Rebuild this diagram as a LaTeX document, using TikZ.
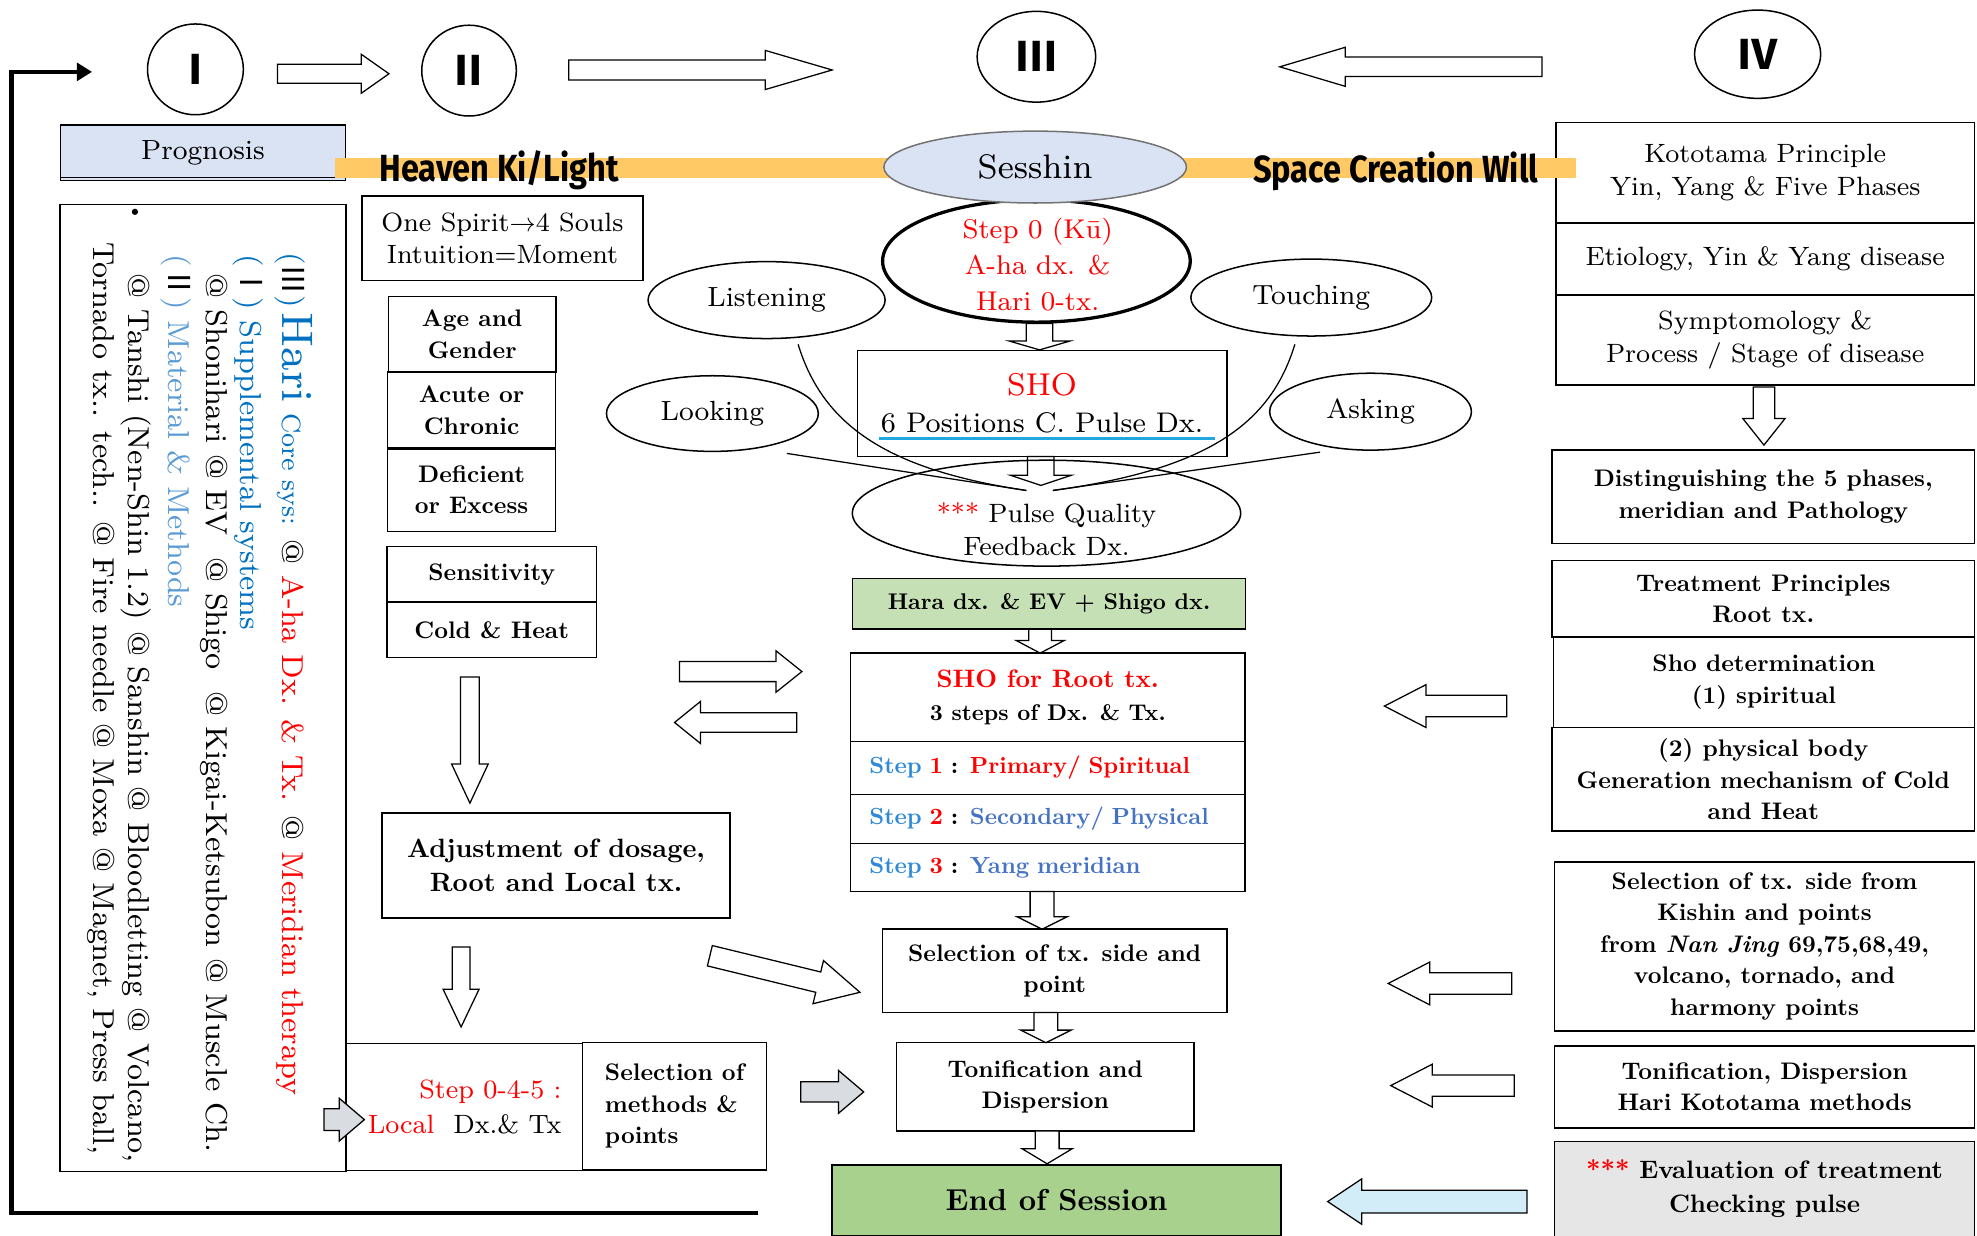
\documentclass[tikz,border=0pt]{standalone}
\usepackage{fontspec}
\setmainfont{lmroman8-regular.otf}[BoldFont=lmroman10-bold.otf, ItalicFont=lmroman8-italic.otf, BoldItalicFont=lmroman10-bolditalic.otf]
\usetikzlibrary{shapes.geometric,calc,positioning,arrows.meta}
\newfontfamily\bannerfont{Fira Sans}[FakeStretch=0.86]
\newfontfamily\numfont{Noto Sans CJK JP}
\definecolor{progblue}{HTML}{DAE3F3}
\definecolor{bandorange}{HTML}{FFC966}
\definecolor{haragreen}{HTML}{C5E0B4}
\definecolor{endgreen}{HTML}{A9D18E}
\definecolor{evalgray}{HTML}{E7E6E6}
\definecolor{arrowgray}{HTML}{D9DCE0}
\definecolor{arrowblue}{HTML}{D3EDF8}
\definecolor{stepblue}{HTML}{2E8AD8}
\definecolor{yangblue}{HTML}{4472C4}
\definecolor{hariblue}{HTML}{0070C0}
\definecolor{matblue}{HTML}{5B9BD5}
\definecolor{ulblue}{HTML}{22A8E0}
\newcommand{\fsz}[2]{\fontsize{#1}{#2}\selectfont}
\newcommand{\fatarrow}[6][fill=white]{
    \coordinate (fat) at #2;
    \coordinate (fab) at #3;
    \coordinate (fah) at ($(fab)!#6!(fat)$);
    \draw[line width=1pt, #1] ($(fat)!#4!90:(fab)$) -- ($(fah)!#4!90:(fab)$) -- ($(fah)!#5!90:(fab)$) -- (fab)
        -- ($(fah)!#5!-90:(fab)$) -- ($(fah)!#4!-90:(fab)$) -- ($(fat)!#4!-90:(fab)$) -- cycle;
}
\tikzset{
    box/.style={draw, line width=1.2pt, inner sep=0pt, align=center, font=\fsz{21}{26}},
    bbox/.style={box, font=\bfseries\fsz{19}{25}},
    stepbox/.style={box, minimum width=313pt, text width=283pt, inner xsep=15pt, align=left, font=\bfseries\fsz{18.5}{22}},
    oval/.style={draw, ellipse, line width=1.2pt, inner sep=0pt, align=center, font=\fsz{22}{27}},
    numoval/.style={oval, font=\numfont\bfseries\fsz{32}{32}},
    rtext/.style={rotate=-90, anchor=base west, inner sep=0pt, font=\fsz{24}{30}},
    feeler/.style={line width=1pt},
    loopline/.style={line width=3.5pt, -{Triangle[length=12pt,width=14pt]}},
    banner/.style={font=\bannerfont\bfseries\fsz{30}{30}, inner sep=0pt, anchor=base},
}
\begin{document}
\begin{tikzpicture}[x=1pt,y=-1pt]
\useasboundingbox (0,0) rectangle (1568,980);

\node[numoval, minimum width=76pt, minimum height=72pt] (c1) at (155,55) {Ⅰ};
\node[numoval, minimum width=75pt, minimum height=72pt] (c2) at (372,56) {Ⅱ};
\node[numoval, minimum width=94pt, minimum height=72pt] (c3) at (822,45) {Ⅲ};
\node[numoval, minimum width=100pt, minimum height=70pt] (c4) at (1394,43) {Ⅳ};
\fatarrow{(220,58.5)}{(308.5,58.5)}{7.5pt}{15.5pt}{22pt}
\fatarrow{(451,55.5)}{(660,55.5)}{8pt}{15.5pt}{53pt}
\fatarrow{(1223,53)}{(1015,53)}{7.7pt}{15.5pt}{52pt}

\coordinate (loopstart) at (601,962);
\coordinate (loopcorner) at (9,57);
\coordinate (looptip) at (73,57);
\draw[loopline] (loopstart) -| (loopcorner) -- (looptip);

\node[box, fill=progblue, minimum width=226pt, minimum height=44pt, font=\fsz{22}{26}] (prog) at (161,121) {Prognosis};
\draw[line width=1pt] ([yshift=3pt]prog.south west) -- ([yshift=3pt]prog.south east);

% right column
\node[box, minimum width=332pt, minimum height=80pt] (koto) at (1400,137) {Kototama Principle\\Yin, Yang \& Five Phases};
\node[box, minimum width=332pt, minimum height=57pt] (etio) at (1400,205.5) {Etiology, Yin \& Yang disease};
\node[box, minimum width=332pt, minimum height=72pt] (sympt) at (1400,269.5) {Symptomology \&\\Process / Stage of disease};
\fatarrow{(1399,307)}{(1399,353)}{8.5pt}{16.7pt}{21pt}
\node[bbox, minimum width=335pt, minimum height=74pt] (disting) at (1398.5,394) {Distinguishing the 5 phases,\\meridian and Pathology};
\node[bbox, minimum width=335pt, minimum height=61pt] (treat) at (1398.5,475) {Treatment Principles\\Root tx.};
\node[bbox, minimum width=334pt, minimum height=72pt] (shodet) at (1399,541) {Sho determination\\(1) spiritual};
\node[bbox, minimum width=335pt, minimum height=82pt] (phys) at (1398.5,618) {(2) physical body\\Generation mechanism of Cold\\and Heat};
\node[bbox, minimum width=333pt, minimum height=134pt] (selkish) at (1399.5,750.5) {Selection of tx. side from\\Kishin and points\\from \textit{Nan Jing} 69,75,68,49,\\volcano, tornado, and\\harmony points};
\node[bbox, minimum width=333pt, minimum height=65pt] (tondisp) at (1399.5,862) {Tonification, Dispersion\\Hari Kototama methods};
\node[bbox, fill=evalgray, minimum width=333pt, minimum height=75pt, font=\bfseries\fsz{20}{27}] (evalu) at (1399.5,943) {{\color{red}***} Evaluation of treatment\\Checking pulse};
\fatarrow{(1195,560)}{(1098,560)}{8.5pt}{17pt}{33pt}
\fatarrow{(1199,780)}{(1101,780)}{8.5pt}{17pt}{33pt}
\fatarrow{(1201,861)}{(1103,861)}{8.5pt}{17pt}{33pt}
\fatarrow[fill=arrowblue]{(1211,953)}{(1053,953)}{9pt}{18pt}{27pt}

% band
\fill[bandorange] (266,125) rectangle (1250,141);
\node[banner] (heaven) at (396,144) {Heaven Ki/Light};
\node[banner] (space) at (1107,145) {Space Creation Will};

% centre column
\node[oval, line width=2.6pt, minimum width=244pt, minimum height=97pt] (step0) at (822,207) {};
\node[text=red, align=center, font=\fsz{21.5}{28.5}] (step0t) at (823,210) {Step 0 (Kū)\\A-ha dx. \&\\Hari 0-tx.};
\node[oval, fill=progblue, draw=black!55, minimum width=240pt, minimum height=57pt, font=\fsz{27}{30}] (sesshin) at (821,132.5) {Sesshin};
\node[oval, minimum width=188pt, minimum height=61pt] (listen) at (608,238) {Listening};
\node[oval, minimum width=191pt, minimum height=61pt] (touch) at (1040,236) {Touching};
\node[oval, minimum width=168pt, minimum height=60pt] (look) at (565,328) {Looking};
\node[oval, minimum width=160pt, minimum height=61pt] (ask) at (1087,326.5) {Asking};
\node[box, minimum width=293pt, minimum height=84pt, font=\fsz{22.5}{29}] (sho6) at (826.5,320) {{\color{red}\fsz{25}{29}SHO}\\6 Positions C. Pulse Dx.};
\draw[ulblue, line width=2.5pt] ($(sho6.south west)+(18,-15)$) -- ($(sho6.south east)+(-10,-15)$);
\fatarrow{(824.5,256.5)}{(824.5,277.5)}{10.5pt}{24pt}{7pt}
\fatarrow{(825.5,362)}{(825.5,385)}{10.5pt}{24pt}{8pt}
\node[oval, minimum width=308pt, minimum height=84pt] (pulse) at (830,407) {};
\node[align=center, font=\fsz{21}{26}] (pulset) at (830,420) {{\color{red}***} Pulse Quality\\Feedback Dx.};
\coordinate (pqL) at (814,389);
\coordinate (pqR) at (835,389);
\draw[feeler] ($(listen.south)+(25,4)$) .. controls (652,335) and (700,372) .. (pqL);
\draw[feeler] ($(look.south)+(59,1)$) -- (pqL);
\draw[feeler] ($(touch.south)+(-13,6)$) .. controls (1008,335) and (960,372) .. (pqR);
\draw[feeler] ($(ask.south)+(-40,1)$) -- (pqR);

\node[bbox, fill=haragreen, minimum width=312pt, minimum height=40pt, font=\bfseries\fsz{18}{22}] (hara) at (832,479) {Hara dx. \& EV + Shigo dx.};
\fatarrow{(825,499)}{(825,518)}{9pt}{19pt}{10pt}
\node[box, minimum width=313pt, minimum height=70pt] (root) at (831,553) {{\color{red}\bfseries\fsz{20}{26}SHO for Root tx.}\\{\bfseries\fsz{18}{24}3 steps of Dx. \& Tx.}};
\node[stepbox, minimum height=42pt] (s1) at (831,609) {{\color{stepblue}Step} {\color{red}1} : {\color{red}Primary/ Spiritual}};
\node[stepbox, minimum height=39pt] (s2) at (831,649.5) {{\color{stepblue}Step} {\color{red}2} : {\color{yangblue}Secondary/ Physical}};
\node[stepbox, minimum height=38pt] (s3) at (831,688) {{\color{stepblue}Step} {\color{red}3} : {\color{yangblue}Yang meridian}};
\fatarrow{(826.5,707)}{(826.5,737)}{9.5pt}{20pt}{10pt}
\node[bbox, minimum width=273pt, minimum height=66pt] (sel) at (836.5,770) {Selection of tx. side and\\point};
\fatarrow{(829.5,803)}{(829.5,827)}{9.5pt}{20pt}{10pt}
\node[bbox, minimum width=236pt, minimum height=70pt] (tonif) at (829,862) {Tonification and\\Dispersion};
\fatarrow{(830.5,897)}{(830.5,923)}{9.5pt}{20pt}{12pt}
\node[bbox, fill=endgreen, minimum width=356pt, minimum height=56pt, font=\bfseries\fsz{24}{28}] (endsess) at (838,952) {End of Session};

% left column
\node[box, minimum width=223pt, minimum height=67pt] (spirit) at (398.5,189) {One Spirit$\rightarrow$4 Souls\\Intuition=Moment};
\node[bbox, minimum width=133pt, minimum height=60pt] (age) at (374.5,265) {Age and\\Gender};
\node[bbox, minimum width=133pt, minimum height=61pt] (acute) at (374,325.5) {Acute or\\Chronic};
\node[bbox, minimum width=133pt, minimum height=66pt] (defic) at (374,388.5) {Deficient\\or Excess};
\node[bbox, minimum width=166pt, minimum height=44pt] (sens) at (390,455.5) {Sensitivity};
\node[bbox, minimum width=166pt, minimum height=44pt] (cold) at (390,499.5) {Cold \& Heat};
\fatarrow{(372.7,537)}{(372.7,637)}{7.4pt}{14.5pt}{31pt}
\node[bbox, minimum width=276pt, minimum height=83pt, font=\bfseries\fsz{21}{27}] (adjust) at (441,686.5) {Adjustment of dosage,\\Root and Local tx.};
\fatarrow{(365.7,751)}{(365.7,814.5)}{7.1pt}{14.3pt}{30pt}
\fatarrow{(539,532.6)}{(636,532.6)}{8pt}{16.4pt}{20.5pt}
\fatarrow{(632,573)}{(535,573)}{7.7pt}{16.7pt}{20.6pt}
\fatarrow{(563,758)}{(682,787)}{8.3pt}{17.6pt}{34pt}

\node[box, minimum width=227pt, minimum height=767pt] (leftbox) at (161,545.5) {};
\fill (107,168) circle (2.5pt);
\node[rtext] (rt1) at (224,200) {{\color{hariblue}(}{\numfont Ⅲ}{\color{hariblue})\,{\fsz{35}{35}Hari} {\fsz{21}{22}Core sys:}} @ {\color{red}A-ha Dx. \& Tx.} @ {\color{red}Meridian therapy}};
\node[rtext] (rt2) at (191,202) {{\color{hariblue}(}{\numfont Ⅰ}{\color{hariblue}) Supplemental systems}};
\node[rtext] (rt3) at (164,217) {@ Shonihari @ EV \ @ Shigo \ @ Kigai-Ketsubon @ Muscle Ch.};
\node[rtext] (rt4) at (134,202) {{\color{matblue}(}{\numfont Ⅱ}{\color{matblue}) Material \& Methods}};
\node[rtext] (rt5) at (102,217) {@ Tanshi (Nen-Shin 1.2) @ Sanshin @ Bloodletting @ Volcano,};
\node[rtext] (rt6) at (74,192) {Tornado tx.. tech.. @ Fire needle @ Moxa @ Magnet, Press ball,};

\node[box, minimum width=187pt, minimum height=101pt, align=right, font=\fsz{21}{28}] (local) at (368.5,878) {{\color{red}Step 0-4-5 :}\\{\color{red}Local}\ \ Dx.\& Tx};
\node[bbox, minimum width=146pt, minimum height=101pt, align=left, font=\bfseries\fsz{19}{25}] (selm) at (535,877.5) {Selection of\\methods \&\\points};
\fatarrow[fill=arrowgray]{(257,888)}{(289,888)}{8.6pt}{17pt}{20pt}
\fatarrow[fill=arrowgray]{(635,866)}{(685,866)}{8pt}{17pt}{20pt}
\end{tikzpicture}
\end{document}
